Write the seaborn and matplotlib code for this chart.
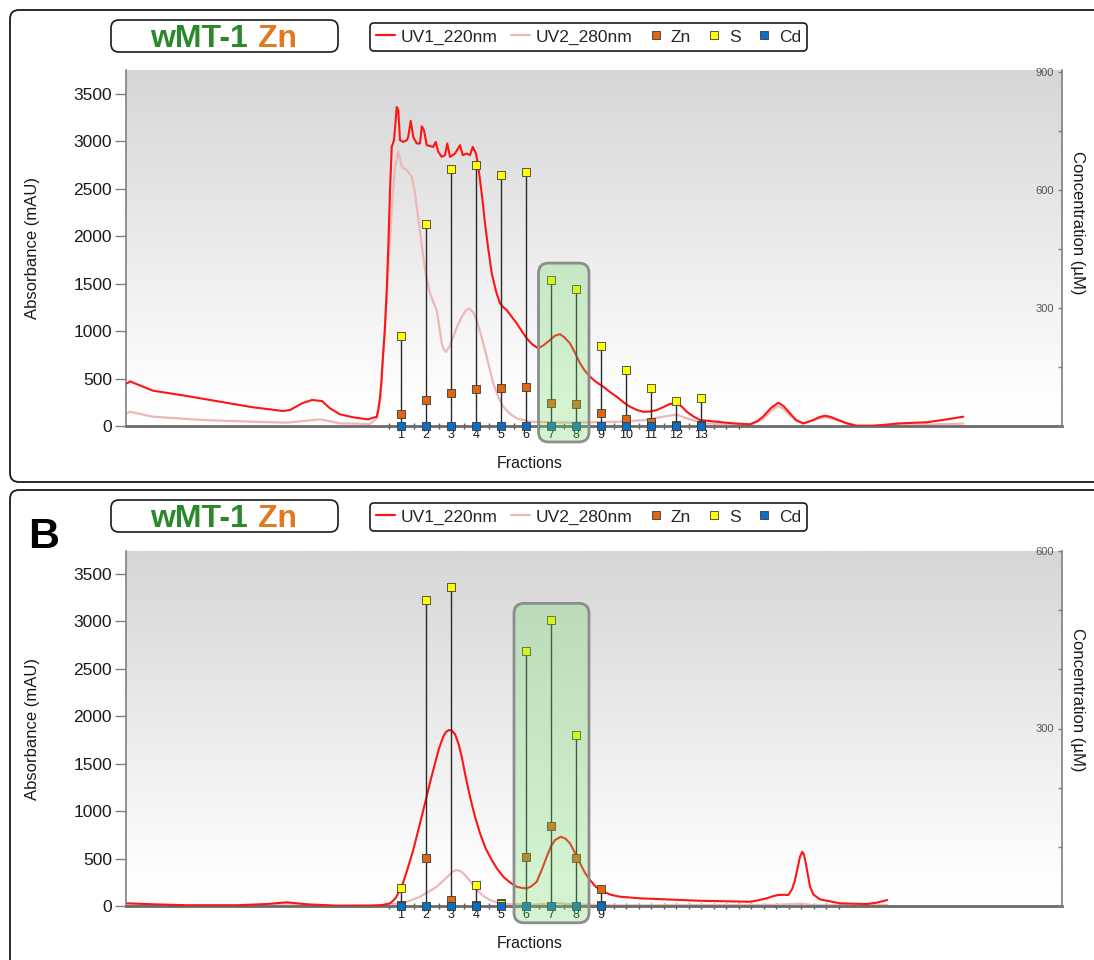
import numpy as np
import matplotlib
matplotlib.use("Agg")
import matplotlib.pyplot as plt
import seaborn as sns
from matplotlib.patches import FancyBboxPatch
from matplotlib.lines import Line2D
from matplotlib.colors import LinearSegmentedColormap
from matplotlib.ticker import FixedLocator, MultipleLocator
from matplotlib.transforms import IdentityTransform

sns.set_theme(style="white")
plt.rcParams['font.family'] = ['Liberation Sans', 'DejaVu Sans']

# ---------------- data (x in fraction units) ----------------
# Panel A chromatogram
uv1_a_x = [-9.95, -9.84, -8.92, -7.56, -6.24, -4.92, -3.72, -3.44, -2.96, -2.56, -2.16, -1.84, -1.44,
           -0.92, -0.32, 0.03, 0.10, 0.16, 0.22, 0.27, 0.35, 0.43, 0.50, 0.56, 0.63, 0.72, 0.83, 0.89,
           0.96, 1.09, 1.23, 1.29, 1.39, 1.49, 1.63, 1.76, 1.83, 1.92, 2.03, 2.29, 2.39, 2.49, 2.63,
           2.76, 2.85, 2.96, 3.16, 3.36, 3.47, 3.63, 3.76, 3.87, 4.00, 4.08, 4.16, 4.26, 4.36, 4.50,
           4.63, 4.80, 4.96, 5.10, 5.23, 5.43, 5.63, 5.83, 6.03, 6.25, 6.49, 6.70, 6.96, 7.15, 7.36,
           7.55, 7.76, 7.96, 8.16, 8.36, 8.56, 8.80, 9.09, 9.35, 9.63, 9.90, 10.16, 10.43, 10.69,
           10.95, 11.23, 11.50, 11.76, 12.03, 12.23, 12.43, 12.70, 12.96, 13.63, 14.28, 14.96, 15.25,
           15.48, 15.80, 16.09, 16.30, 16.56, 16.80, 17.09, 17.30, 17.49, 17.75, 17.96, 18.20, 18.43,
           18.80, 19.23, 19.89, 20.96, 22.03, 22.83, 23.49]
uv1_a_y = [450, 470, 372, 316, 256, 197, 158, 168, 239, 274, 263, 186, 123,
           92, 70, 98, 180, 300, 480, 700, 1000, 1432, 1950, 2485, 2940, 3010, 3360, 3326,
           3010, 2993, 3010, 3045, 3214, 3045, 2976, 2976, 3158, 3115, 2958, 2940, 2993, 2888, 2835,
           2853, 2976, 2835, 2870, 2958, 2853, 2870, 2853, 2940, 2870, 2760, 2590, 2380, 2134, 1850,
           1607, 1420, 1291, 1250, 1221, 1150, 1081, 1000, 923, 860, 818, 850, 905, 950, 968,
           930, 870, 770, 660, 580, 519, 465, 414, 360, 308, 250, 203, 170, 150,
           152, 168, 200, 232, 239, 205, 150, 100, 63, 45, 28, 18, 50,
           98, 190, 245, 210, 134, 60, 28, 45, 63, 95, 108, 95, 70,
           30, 2, 2, 28, 39, 70, 98]
uv2_a_x = [-9.95, -9.84, -8.92, -6.92, -4.92, -3.56, -2.24, -1.96, -1.44, -0.24, 0.03, 0.18, 0.30,
           0.43, 0.56, 0.66, 0.76, 0.89, 1.03, 1.23, 1.43, 1.53, 1.63, 1.76, 1.89, 2.02, 2.16, 2.30,
           2.43, 2.63, 2.72, 2.80, 2.95, 3.09, 3.25, 3.43, 3.60, 3.73, 3.88, 4.03, 4.20, 4.36, 4.53,
           4.69, 4.90, 5.09, 5.35, 5.63, 6.16, 7.76, 9.76, 10.83, 11.30, 11.76, 12.03, 12.43, 13.08,
           14.28, 14.96, 15.48, 15.80, 16.09, 16.30, 16.56, 17.09, 17.60, 17.96, 18.56, 19.23, 20.96,
           23.49]
uv2_a_y = [134, 150, 98, 63, 45, 35, 70, 56, 28, 21, 80, 300, 800,
           1350, 1960, 2400, 2730, 2890, 2730, 2695, 2625, 2500, 2308, 2050, 1782, 1560, 1397, 1300,
           1221, 870, 800, 782, 840, 940, 1050, 1150, 1220, 1239, 1200, 1116, 960, 800, 620,
           449, 300, 203, 130, 81, 45, 35, 45, 63, 90, 110, 120, 81, 28,
           18, 12, 70, 160, 210, 180, 110, 25, 70, 95, 55, 2, 10,
           25]

# Panel A fractions (concentration, uM)
fr_a = list(range(1, 14))
s_a = [229, 514, 653, 664, 638, 646, 371, 348, 203, 142, 97, 64, 71]
zn_a = [30, 65, 85, 94, 96, 100, 59, 56, 33, 18, 11, 3, 2]
cd_a = [0] * 13

# Panel B chromatogram
uv1_b_x = [-9.95, -8.92, -7.56, -5.56, -4.36, -3.56, -2.76, -1.56, -0.24, 0.16, 0.30, 0.56, 0.68,
           0.80, 0.90, 1.03, 1.25, 1.49, 1.72, 1.96, 2.16, 2.36, 2.52, 2.69, 2.80, 2.92, 3.04, 3.16,
           3.30, 3.43, 3.58, 3.76, 3.95, 4.16, 4.38, 4.63, 4.85, 5.09, 5.35, 5.63, 5.85, 6.03, 6.20,
           6.43, 6.63, 6.83, 7.00, 7.16, 7.39, 7.58, 7.76, 7.96, 8.16, 8.36, 8.56, 8.80, 9.09, 9.40,
           9.76, 10.56, 12.96, 14.96, 15.20, 15.63, 15.90, 16.09, 16.30, 16.49, 16.65, 16.76, 16.88,
           16.96, 17.05, 17.12, 17.20, 17.36, 17.50, 17.76, 18.56, 19.63, 20.03, 20.45]
uv1_b_y = [28, 18, 8, 8, 21, 39, 18, 3, 5, 8, 12, 28, 55,
           90, 140, 203, 380, 590, 830, 1082, 1300, 1504, 1660, 1784, 1835, 1855, 1845, 1812,
           1710, 1573, 1370, 1152, 950, 766, 610, 485, 390, 309, 250, 203, 190, 186, 205,
           256, 380, 520, 630, 695, 730, 710, 660, 560, 450, 350, 274, 200, 151, 118,
           98, 81, 55, 45, 55, 81, 105, 116, 118, 116, 180, 274, 420,
           520, 572, 540, 440, 203, 120, 70, 28, 21, 35, 63]
uv2_b_x = [-9.95, -5.0, -4.36, -3.56, -2.76, -1.5, 0.0, 1.03, 1.40, 1.76, 2.10, 2.43, 2.70, 2.89,
           3.05, 3.23, 3.40, 3.56, 3.80, 4.03, 4.30, 4.56, 4.85, 5.16, 6.43, 7.23, 8.0, 9.76, 16.0,
           17.05, 17.5, 20.45]
uv2_b_y = [5, 3, 15, 25, 10, 2, 2, 30, 60, 98, 150, 203, 270, 316,
           360, 380, 365, 327, 250, 169, 105, 63, 35, 20, 15, 30, 15, 6, 12,
           25, 8, 10]

fr_b = list(range(1, 10))
s_b = [31, 518, 539, 35, 3, 431, 483, 289, 2]
zn_b = [2, 81, 10, 2, 5, 83, 136, 81, 28]
cd_b = [0] * 9

legend_labels = ['UV1_220nm', 'UV2_280nm', 'Zn', 'S', 'Cd']

# ---------------- style ----------------
RED = '#ff1414'
PINK = '#ebb8b8'
C_ZN = '#e0670f'
C_S = '#ffff00'
C_CD = '#0a6fc2'

W, H = 1094, 960
fig = plt.figure(figsize=(W / 100, H / 100), dpi=100)


def fx(px):
    return px / W


def fy(py):
    return 1 - py / H


def pxbox(x0, y0, x1, y1, r, **kw):
    p = FancyBboxPatch((x0, H - y1), x1 - x0, y1 - y0,
                       boxstyle=f"round,pad=0,rounding_size={r}",
                       transform=IdentityTransform(), **kw)
    fig.add_artist(p)
    return p


grad_cmap = LinearSegmentedColormap.from_list(
    'bg', [(0, '#ffffff'), (0.1, '#fdfdfd'), (1, '#d6d6d6')])

XL = (-10.0, 27.44)


def panel(rect, ux, uy, px_, py_, fr, s, zn, cd, rtop, rmajor, rminor,
          ylim_top, box, n_minor_end, label_y_frac):
    ax = fig.add_axes(rect)
    ax.patch.set_visible(False)
    grad = np.linspace(0, 1, 256).reshape(-1, 1)
    ax.imshow(grad, extent=[0, 1, 0, 1], transform=ax.transAxes, aspect='auto',
              cmap=grad_cmap, origin='lower', zorder=0)
    ax2 = ax.twinx()

    sns.lineplot(x=px_, y=py_, ax=ax, color=PINK, lw=1.6, sort=False, estimator=None, zorder=2)
    sns.lineplot(x=ux, y=uy, ax=ax, color=RED, lw=1.5, sort=False, estimator=None, zorder=3)

    top = [max(a, b) for a, b in zip(s, zn)]
    ax2.vlines(fr, 0, top, color='#2a2a2a', lw=1.0, zorder=3)
    for vals, col in [(zn, C_ZN), (s, C_S), (cd, C_CD)]:
        sns.scatterplot(x=fr, y=vals, ax=ax2, marker='s', s=38, color=col,
                        edgecolor='#3a3a3a', linewidth=0.6, zorder=5, clip_on=False)

    ax.set_xlim(*XL)
    ax.set_ylim(0, ylim_top)
    ax2.set_ylim(0, rtop)
    ax2.set_xlim(*XL)

    # green highlight box (in absorbance data units)
    bx0, bx1, by0, by1 = box
    xpp = (XL[1] - XL[0]) / (rect[2] * W)
    ypp = ylim_top / (rect[3] * H)
    gb = FancyBboxPatch((bx0, by0), bx1 - bx0, by1 - by0,
                        boxstyle=f"round,pad=0,rounding_size={10 * xpp}",
                        mutation_aspect=ypp / xpp,
                        transform=ax.transData, facecolor=(0.45, 0.85, 0.40, 0.30),
                        edgecolor='#8c8c8c', lw=2.0, zorder=10, clip_on=False)
    ax2.add_patch(gb)

    # spines
    for sp in ['top', 'right']:
        ax.spines[sp].set_visible(False)
    for sp in ['top', 'left', 'bottom']:
        ax2.spines[sp].set_visible(False)
    ax.spines['left'].set_color('#808080')
    ax.spines['left'].set_linewidth(1.2)
    ax.spines['bottom'].set_color('#6a6a6a')
    ax.spines['bottom'].set_linewidth(2.0)
    ax2.spines['right'].set_color('#808080')
    ax2.spines['right'].set_linewidth(1.2)

    # left y ticks
    ax.set_yticks(range(0, 3501, 500))
    ax.tick_params(axis='y', left=True, direction='out', length=8, width=1, color='#808080',
                   pad=2, labelsize=12.5, labelcolor='#1a1a1a')
    # x ticks
    n = len(fr)
    majors = list(range(1, n_minor_end + 1))
    ax.set_xticks(majors)
    ax.set_xticklabels([str(i) if i <= n else '' for i in majors])
    ax.set_xticks(np.arange(0.5, n_minor_end + 0.6, 1), minor=True)
    ax.tick_params(axis='x', which='both', bottom=True, direction='inout', length=5, width=1,
                   color='#555555', labelsize=9, pad=0, labelcolor='#1a1a1a')
    ax.tick_params(axis='x', which='minor', length=4)

    # right y ticks (labels inside)
    ax2.yaxis.set_major_locator(FixedLocator(rmajor))
    ax2.yaxis.set_minor_locator(MultipleLocator(rminor))
    ax2.tick_params(axis='y', which='both', right=True, direction='in', length=3, width=1,
                    color='#808080', labelsize=8, labelcolor='#555555', pad=-6)
    plt.setp(ax2.get_yticklabels(), ha='right')

    ax.set_ylabel('Absorbance (mAU)', fontsize=12, color='#1a1a1a', va='center')
    ax.yaxis.set_label_coords((33 - 126) / (rect[2] * W), 0.5)
    ax2.set_ylabel('Concentration (µM)', fontsize=12, color='#1a1a1a', rotation=270,
                   va='center')
    ax2.yaxis.set_label_coords((1077.5 - 126) / (rect[2] * W), label_y_frac)
    ax.set_xlabel('Fractions', fontsize=11.5, color='#1a1a1a', va='center')
    ax.xaxis.set_label_coords((530 - 126) / (rect[2] * W), -37 / (rect[3] * H))
    return ax, ax2


# outer panel frames
pxbox(10, 10, 1130, 482, 9, facecolor='white', edgecolor='#1a1a1a', lw=1.3, zorder=0)
pxbox(10, 490, 1130, 990, 9, facecolor='white', edgecolor='#1a1a1a', lw=1.3, zorder=0)

rectA = [fx(126), fy(426), fx(1062) - fx(126), fy(70) - fy(426)]
rectB = [fx(126), fy(906), fx(1062) - fx(126), fy(551) - fy(906)]

panel(rectA, uv1_a_x, uv1_a_y, uv2_a_x, uv2_a_y, fr_a, s_a, zn_a, cd_a,
      905, [300, 600, 900], 150, 3750, (6.5, 8.52, -168, 1716), 14, 0.57)
panel(rectB, uv1_b_x, uv1_b_y, uv2_b_x, uv2_b_y, fr_b, s_b, zn_b, cd_b,
      600, [300, 600], 100, 3742, (5.52, 8.52, -177, 3190), 18, 0.58)

# title boxes and legends
handles = [Line2D([], [], color=RED, lw=1.6),
           Line2D([], [], color=PINK, lw=1.6),
           Line2D([], [], ls='none', marker='s', ms=6, mfc=C_ZN, mec='#3a3a3a', mew=0.6),
           Line2D([], [], ls='none', marker='s', ms=6, mfc=C_S, mec='#3a3a3a', mew=0.6),
           Line2D([], [], ls='none', marker='s', ms=6, mfc=C_CD, mec='#3a3a3a', mew=0.6)]

for top_y in (20, 500):
    pxbox(111, top_y, 338, top_y + 32, 8, facecolor='white', edgecolor='#1a1a1a', lw=1.2,
          zorder=5)
    fig.text(fx(150), fy(top_y + 27), 'wMT-1', color='#2a8a2a', fontsize=23,
             fontweight='bold', ha='left', va='baseline', zorder=8)
    fig.text(fx(258), fy(top_y + 27), 'Zn', color='#e07a1c', fontsize=23,
             fontweight='bold', ha='left', va='baseline', zorder=8)
    leg = fig.legend(handles, legend_labels, loc='center',
                     bbox_to_anchor=(fx(588.5), fy(top_y + 17)), ncol=5, frameon=True,
                     fancybox=True, fontsize=12.5, handlelength=1.1, handletextpad=0.3,
                     columnspacing=0.8, borderpad=0.35, borderaxespad=0)
    fr_ = leg.get_frame()
    fr_.set_edgecolor('#1a1a1a')
    fr_.set_linewidth(1.2)
    fr_.set_facecolor('white')
    fr_.set_alpha(1)

fig.text(fx(28), fy(548), 'B', fontsize=31, fontweight='bold', color='black',
         ha='left', va='baseline', zorder=8)

fig.savefig('out.png', dpi=100)
